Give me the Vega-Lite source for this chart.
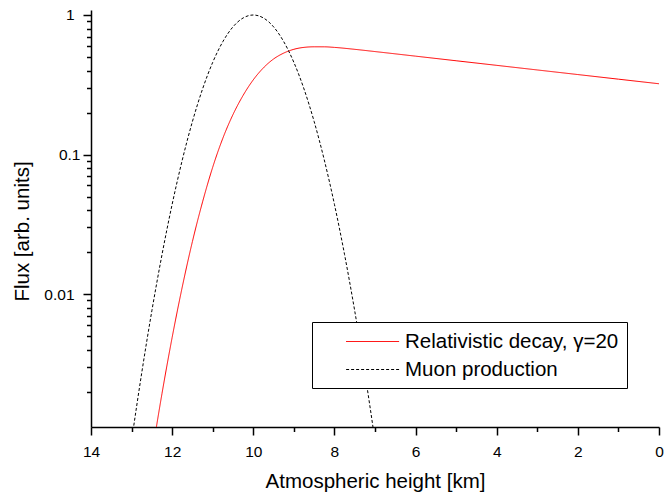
{
  "$schema": "https://vega.github.io/schema/vega-lite/v6.json",
  "width": 568,
  "height": 417,
  "autosize": "none",
  "padding": {"left": 91, "top": 10, "right": 8, "bottom": 68},
  "background": "white",
  "config": {
    "view": {"stroke": null},
    "font": "Liberation Sans",
    "axis": {"grid": false, "domainColor": "black", "tickColor": "black", "labelColor": "black", "titleColor": "black", "domainWidth": 1.5, "tickWidth": 1.5, "labelFont": "Liberation Sans", "titleFont": "Liberation Sans", "titleFontWeight": "normal"},
    "legend": {"orient": "none", "legendX": 221, "legendY": 312, "symbolType": "M -4 0 L 1 0", "symbolSize": 449, "symbolStrokeWidth": 1, "labelFontSize": 20.5, "labelFont": "Liberation Sans", "labelColor": "black", "labelLimit": 500, "strokeColor": "black", "fillColor": "white", "padding": 8, "rowPadding": 6, "labelOffset": 5, "symbolOffset": 57}
  },
  "datasets": {
    "curves": [
      {"h": 12.5, "flux": 0.000702, "series": "Relativistic decay, γ=20"},
      {"h": 12.25, "flux": 0.001936, "series": "Relativistic decay, γ=20"},
      {"h": 12.0, "flux": 0.004884, "series": "Relativistic decay, γ=20"},
      {"h": 11.75, "flux": 0.01126, "series": "Relativistic decay, γ=20"},
      {"h": 11.5, "flux": 0.0238, "series": "Relativistic decay, γ=20"},
      {"h": 11.25, "flux": 0.04576, "series": "Relativistic decay, γ=20"},
      {"h": 11.0, "flux": 0.0811, "series": "Relativistic decay, γ=20"},
      {"h": 10.75, "flux": 0.1309, "series": "Relativistic decay, γ=20"},
      {"h": 10.5, "flux": 0.1935, "series": "Relativistic decay, γ=20"},
      {"h": 10.25, "flux": 0.2656, "series": "Relativistic decay, γ=20"},
      {"h": 10.0, "flux": 0.3431, "series": "Relativistic decay, γ=20"},
      {"h": 9.75, "flux": 0.4181, "series": "Relativistic decay, γ=20"},
      {"h": 9.5, "flux": 0.4838, "series": "Relativistic decay, γ=20"},
      {"h": 9.25, "flux": 0.5333, "series": "Relativistic decay, γ=20"},
      {"h": 9.0, "flux": 0.5677, "series": "Relativistic decay, γ=20"},
      {"h": 8.75, "flux": 0.586, "series": "Relativistic decay, γ=20"},
      {"h": 8.5, "flux": 0.5916, "series": "Relativistic decay, γ=20"},
      {"h": 8.25, "flux": 0.5914, "series": "Relativistic decay, γ=20"},
      {"h": 8.0, "flux": 0.5858, "series": "Relativistic decay, γ=20"},
      {"h": 7.5, "flux": 0.5675, "series": "Relativistic decay, γ=20"},
      {"h": 7.0, "flux": 0.5469, "series": "Relativistic decay, γ=20"},
      {"h": 6.0, "flux": 0.507, "series": "Relativistic decay, γ=20"},
      {"h": 5.0, "flux": 0.4699, "series": "Relativistic decay, γ=20"},
      {"h": 4.0, "flux": 0.4356, "series": "Relativistic decay, γ=20"},
      {"h": 3.0, "flux": 0.4037, "series": "Relativistic decay, γ=20"},
      {"h": 2.0, "flux": 0.3742, "series": "Relativistic decay, γ=20"},
      {"h": 1.0, "flux": 0.3468, "series": "Relativistic decay, γ=20"},
      {"h": 0.0, "flux": 0.3215, "series": "Relativistic decay, γ=20"},
      {"h": 13.25, "flux": 0.000261, "series": "Muon production"},
      {"h": 13.0, "flux": 0.000884, "series": "Muon production"},
      {"h": 12.75, "flux": 0.002718, "series": "Muon production"},
      {"h": 12.5, "flux": 0.007577, "series": "Muon production"},
      {"h": 12.25, "flux": 0.01916, "series": "Muon production"},
      {"h": 12.0, "flux": 0.04394, "series": "Muon production"},
      {"h": 11.75, "flux": 0.09139, "series": "Muon production"},
      {"h": 11.5, "flux": 0.1724, "series": "Muon production"},
      {"h": 11.25, "flux": 0.295, "series": "Muon production"},
      {"h": 11.0, "flux": 0.4578, "series": "Muon production"},
      {"h": 10.75, "flux": 0.6444, "series": "Muon production"},
      {"h": 10.5, "flux": 0.8226, "series": "Muon production"},
      {"h": 10.25, "flux": 0.9523, "series": "Muon production"},
      {"h": 10.0, "flux": 1.0, "series": "Muon production"},
      {"h": 9.75, "flux": 0.9523, "series": "Muon production"},
      {"h": 9.5, "flux": 0.8226, "series": "Muon production"},
      {"h": 9.25, "flux": 0.6444, "series": "Muon production"},
      {"h": 9.0, "flux": 0.4578, "series": "Muon production"},
      {"h": 8.75, "flux": 0.295, "series": "Muon production"},
      {"h": 8.5, "flux": 0.1724, "series": "Muon production"},
      {"h": 8.25, "flux": 0.09139, "series": "Muon production"},
      {"h": 8.0, "flux": 0.04394, "series": "Muon production"},
      {"h": 7.75, "flux": 0.01916, "series": "Muon production"},
      {"h": 7.5, "flux": 0.007577, "series": "Muon production"},
      {"h": 7.25, "flux": 0.002718, "series": "Muon production"},
      {"h": 7.0, "flux": 0.000884, "series": "Muon production"},
      {"h": 6.75, "flux": 0.000261, "series": "Muon production"}
    ]
  },
  "layer": [
    {
      "data": {"name": "curves"},
      "mark": {"type": "line", "clip": true, "strokeWidth": 1, "interpolate": "monotone"},
      "encoding": {
        "x": {"field": "h", "type": "quantitative", "scale": {"domain": [0, 14], "reverse": true, "nice": false, "zero": false},
          "axis": {"orient": "bottom", "values": [0, 2, 4, 6, 8, 10, 12, 14], "format": "d", "tickSize": 8, "labelFontSize": 15.5, "labelPadding": 9, "labelFlush": false,
            "title": "Atmospheric height [km]", "titleFontSize": 20.5, "titleY": 60, "titleBaseline": "alphabetic"}},
        "y": {"field": "flux", "type": "quantitative", "scale": {"type": "log", "domain": [0.001114, 1.086], "nice": false},
          "axis": {"orient": "left", "values": [0.01, 0.1, 1], "format": "~g", "tickSize": 8, "labelFontSize": 15.5, "labelFlush": false,
            "labelPadding": {"condition": {"test": "datum.value > 0.05 && datum.value < 0.5", "value": 3}, "value": 9},
            "title": "Flux [arb. units]", "titleFontSize": 20.5, "titleX": -59, "titleY": 221, "titleBaseline": "bottom"}},
        "color": {"field": "series", "type": "nominal",
          "scale": {"domain": ["Relativistic decay, γ=20", "Muon production"], "range": ["#ff0000", "#000000"]},
          "legend": {"title": null, "labelExpr": "datum.label + '\u2003'"}},
        "strokeDash": {"field": "series", "type": "nominal",
          "scale": {"domain": ["Relativistic decay, γ=20", "Muon production"], "range": [[1, 0], [3, 2]]},
          "legend": {"title": null, "labelExpr": "datum.label + '\u2003'"}}
      }
    },
    {
      "data": {"name": "curves"},
      "mark": {"type": "line", "opacity": 0, "clip": true},
      "encoding": {
        "x": {"field": "h", "type": "quantitative", "scale": {"domain": [0, 14], "reverse": true, "nice": false, "zero": false},
          "axis": {"orient": "bottom", "values": [1, 3, 5, 7, 9, 11, 13], "tickSize": 4.5, "labels": false, "domain": false, "title": null}},
        "y": {"field": "flux", "type": "quantitative", "scale": {"type": "log", "domain": [0.001114, 1.086], "nice": false},
          "axis": {"orient": "left", "values": [0.002, 0.003, 0.004, 0.005, 0.006, 0.007, 0.008, 0.009, 0.02, 0.03, 0.04, 0.05, 0.06, 0.07, 0.08, 0.09, 0.2, 0.3, 0.4, 0.5, 0.6, 0.7, 0.8, 0.9], "tickSize": 4.5, "labels": false, "domain": false, "title": null}}
      }
    }
  ],
  "resolve": {"axis": {"x": "independent", "y": "independent"}}
}
